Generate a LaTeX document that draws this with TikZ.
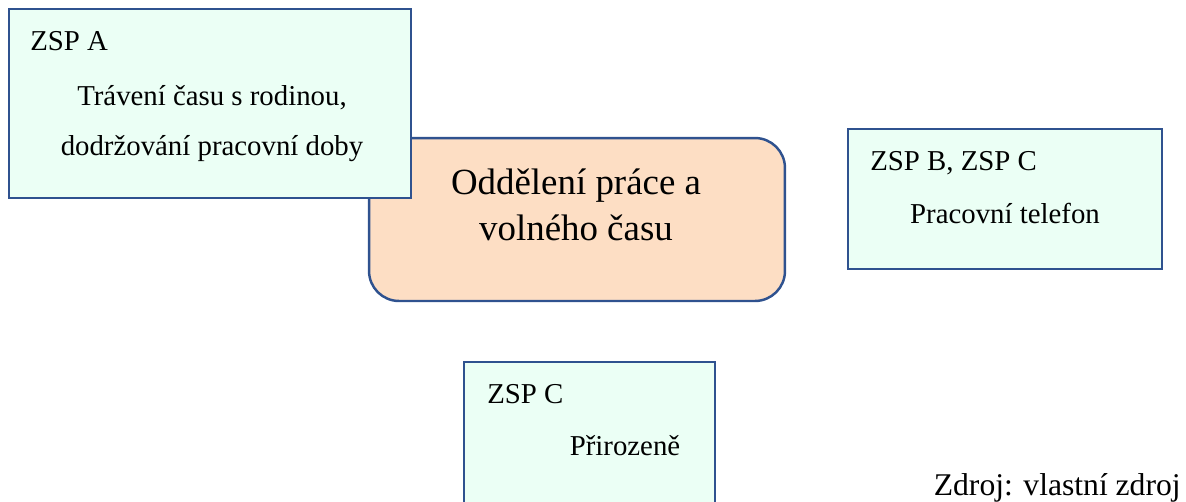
\documentclass[tikz,border=0pt]{standalone}
\usepackage{fontspec}
\setmainfont{Liberation Serif}
\usepackage{tikz}
\usetikzlibrary{positioning}
\definecolor{boxline}{RGB}{47,82,143}
\definecolor{mint}{RGB}{235,255,245}
\definecolor{peach}{RGB}{253,222,196}

\begin{document}
\begin{tikzpicture}[
    x=0.02cm, y=-0.02cm,
    zsp/.style={rectangle,draw=boxline,fill=mint,line width=1.4pt,inner sep=0},
    topic/.style={rectangle,rounded corners=0.6cm,draw=boxline,fill=peach,
                  line width=1.4pt,inner sep=0},
    who/.style={anchor=base west,inner sep=0,font=\fontsize{16.4}{20}\selectfont},
    what/.style={anchor=base,inner sep=0,align=center,
                 font=\fontsize{16.4}{28.3}\selectfont},
    source/.style={anchor=base east,inner sep=0,font=\fontsize{18}{22}\selectfont}
]

    \clip (0,0) rectangle (1186,501);

    % main topic sits behind box A
    \node[topic, minimum width=8.32cm, minimum height=3.26cm] (topic) at (577,219.5) {};
    \node[anchor=base, inner sep=0, align=center,
          font=\fontsize{21}{26.1}\selectfont] (topictext) at (576,240)
          {Oddělení práce a\\volného času};

    % box A
    \node[zsp, minimum width=8.04cm, minimum height=3.78cm] (boxA) at (210,103.5) {};
    \node[who] (whoA) at (30,50) {ZSP A};
    \node[what] (whatA) at (212,155) {Trávení času s rodinou,\\dodržování pracovní doby};

    % box B
    \node[zsp, minimum width=6.28cm, minimum height=2.8cm] (boxB) at (1005,199) {};
    \node[who] (whoB) at (870,170) {ZSP B, ZSP C};
    \node[what] (whatB) at (1005,223) {Pracovní telefon};

    % box C, cut by the page edge
    \node[zsp, minimum width=5.02cm, minimum height=3.16cm] (boxC) at (589.5,441) {};
    \node[who] (whoC) at (487,403) {ZSP C};
    \node[what] (whatC) at (625,455) {Přirozeně};

    \node[source] (zdroj) at (1181,495) {Zdroj: vlastní zdroj};

\end{tikzpicture}
\end{document}
